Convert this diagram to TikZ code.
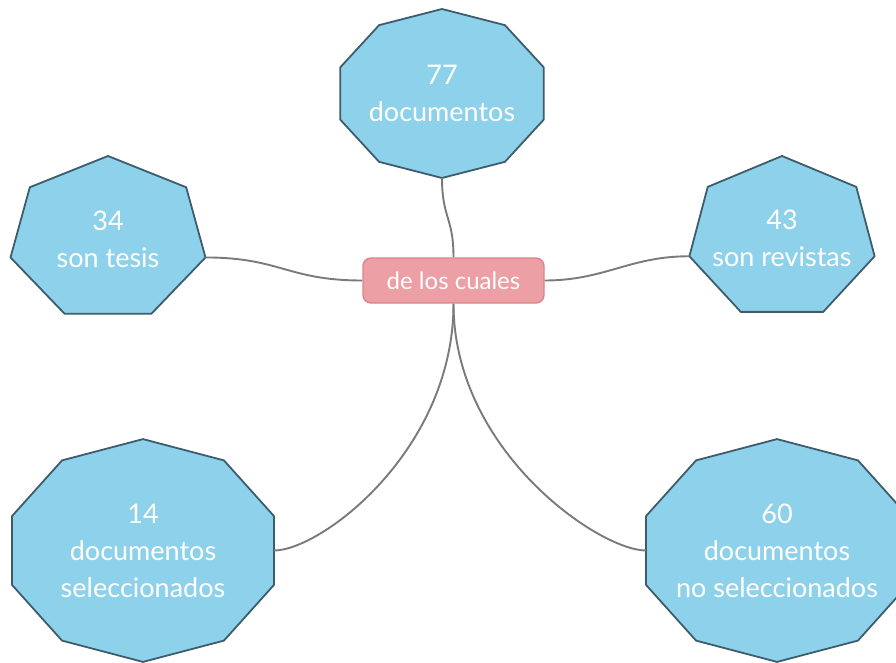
\documentclass[tikz,border=0pt]{standalone}
\usepackage{fontspec}
\setmainfont{Lato}
\usetikzlibrary{calc,backgrounds}

\definecolor{sky}{HTML}{8ED1EA}
\definecolor{skyline}{HTML}{3D5D6C}
\definecolor{rose}{HTML}{EC9FA5}
\definecolor{roseline}{HTML}{DA858B}
\definecolor{wire}{HTML}{7A7A7A}

% polygon round a text node: name, sides, x radius, y radius
\newcommand\blob[4]{%
  \pgfmathtruncatemacro\lastk{#2-1}%
  \filldraw[B] ($(#1)+(-90:#3 and #4)$) coordinate (#1-0)
    \foreach \k in {1,...,\lastk}{
      -- ($(#1)+({-90+360*\k/#2}:#3 and #4)$) coordinate (#1-\k)} -- cycle;}

\begin{document}
\begin{tikzpicture}[x=1pt, y=-1pt,
    T/.style={text=white, align=center, font=\fontsize{27}{37}\selectfont},
    B/.style={fill=sky, draw=skyline, line width=1.8pt, line join=round},
    W/.style={draw=wire, line width=1.9pt}]
    \useasboundingbox (0,0) rectangle (896,663);
    \node[fill=rose, draw=roseline, line width=1.4pt, rounded corners=8pt,
        minimum width=181pt, minimum height=45pt, text=white,
        font=\fontsize{24}{28}\selectfont] (hub) at (453.5,280.5) {de los cuales};
    \node[T] (tot) at (442,93.5) {77\\documentos};
    \node[T] (tes) at (108,239) {34\\son tesis};
    \node[T] (rev) at (782,238) {43\\son revistas};
    \node[T] (sel) at (143,550.5) {14\\documentos\\seleccionados};
    \node[T] (nsel) at (777,550.5) {60\\documentos\\no seleccionados};
    \begin{scope}[on background layer]
        \blob{tot}{10}{107}{84.5}
        \blob{tes}{7}{100}{83}
        \blob{rev}{7}{95}{82}
        \blob{sel}{10}{137.7}{111.4}
        \blob{nsel}{10}{137.7}{111.4}
        \draw[W] (tot-5) .. controls +(0,40) and +(0,-40) .. (hub.north);
        \draw[W] (tes-2) .. controls +(75,0) and +(-75,0) .. (hub.west);
        \draw[W] (hub.east) .. controls +(60,0) and +(-60,0) .. (rev-5);
        \draw[W] (hub.south) .. controls +(0,147) and +(47,0)
            .. ($(sel-2)!.5!(sel-3)$);
        \draw[W] (hub.south) .. controls +(0,147) and +(-47,0)
            .. ($(nsel-7)!.5!(nsel-8)$);
    \end{scope}
\end{tikzpicture}
\end{document}
